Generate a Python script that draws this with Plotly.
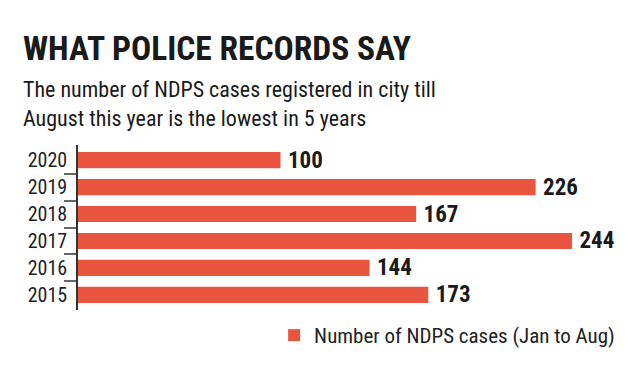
import plotly.graph_objects as go

years = [2015, 2016, 2017, 2018, 2019, 2020]
cases = [173, 144, 244, 167, 226, 100]
year_labels = ["2015", "2016", "2017", "2018", "2019", "2020"]
boundaries = [2015.5, 2016.5, 2017.5, 2018.5, 2019.5]

title_text = "WHAT POLICE RECORDS SAY"
subtitle_text = "The number of NDPS cases registered in city till<br>August this year is the lowest in 5 years"
legend_name = "Number of NDPS cases (Jan to Aug)"

NARROW = "Liberation Sans Narrow, Roboto Condensed, DejaVu Sans Condensed, Arial Narrow, sans-serif"
BAR = "#E9553F"

fig = go.Figure()
fig.add_trace(go.Bar(
    y=years, x=cases, orientation="h",
    marker=dict(color=BAR, line=dict(width=0)),
    width=0.6,
    name=legend_name,
    texttemplate="\u2009%{x}",
    textposition="outside",
    constraintext="none",
    cliponaxis=False,
    textfont=dict(family=NARROW, size=23, color="#1a1a1a", weight="bold"),
    showlegend=True,
))

fig.update_layout(
    width=624, height=365,
    margin=dict(l=70, r=0, t=137, b=63),
    paper_bgcolor="white", plot_bgcolor="white",
    font=dict(family=NARROW, color="#222"),
    xaxis=dict(range=[0, 273.6], visible=False, fixedrange=True, automargin=False),
    yaxis=dict(
        range=[2014.44, 2020.56], automargin=False,
        tickvals=years, ticktext=year_labels,
        showline=True, linecolor="#333", linewidth=1.5,
        ticks="", showgrid=False, zeroline=False,
        tickfont=dict(family=NARROW, size=20, color="#222"),
        ticklabelstandoff=5,
        minor=dict(tickvals=boundaries, ticks="outside", ticklen=12,
                   tickwidth=1.5, tickcolor="#666", showgrid=False),
    ),
    showlegend=True,
    legend=dict(
        orientation="h", x=0.354, xanchor="left", y=-0.03, yanchor="top",
        font=dict(family=NARROW, size=21, color="#222"),
        bgcolor="rgba(0,0,0,0)",
    ),
    annotations=[
        dict(text="<b>" + title_text + "</b>", xref="paper", yref="paper",
             x=-0.103, y=1.0, xanchor="left", yanchor="bottom",
             yshift=74.5, showarrow=False,
             font=dict(family=NARROW, size=33.5, color="#1a1a1a")),
        dict(text=subtitle_text, xref="paper", yref="paper",
             x=-0.103, y=1.0, xanchor="left", yanchor="bottom",
             yshift=12, showarrow=False, align="left",
             font=dict(family=NARROW, size=22, color="#1a1a1a")),
    ],
)

fig.write_html("out.html")
